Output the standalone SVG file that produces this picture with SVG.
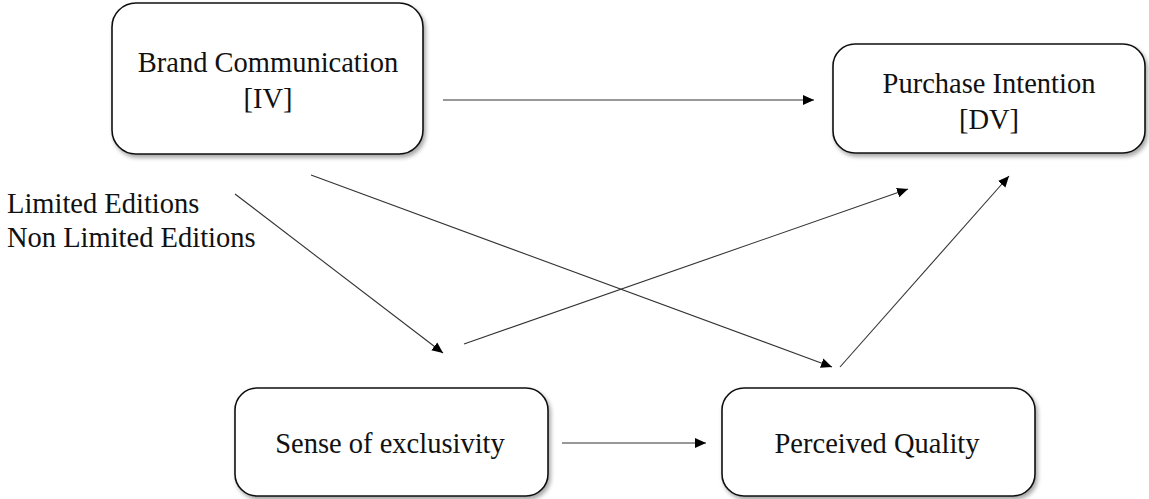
<svg xmlns="http://www.w3.org/2000/svg" width="1149" height="499" viewBox="0 0 1149 499">
<style>
.box{fill:#fff;stroke:#111;stroke-width:1.6;filter:url(#sh)}
.t{font-family:"Liberation Serif","Times New Roman",serif;font-size:28.5px;fill:#111}
.c{text-anchor:middle}
.e{stroke:#333;stroke-width:1.1;fill:none;marker-end:url(#ah)}
</style>
<defs>
<filter id="sh" x="-10%" y="-10%" width="120%" height="130%">
<feDropShadow dx="2" dy="3" stdDeviation="2" flood-color="#000" flood-opacity="0.35"/>
</filter>
<marker id="ah" viewBox="0 0 10 10" refX="10" refY="5" markerWidth="11" markerHeight="11" markerUnits="userSpaceOnUse" orient="auto">
<path d="M0,0.5 L10,5 L0,9.5 z" fill="#000"/>
</marker>
</defs>
<rect width="1149" height="499" fill="#fff"/>
<g id="connectors">
<line class="e" x1="443" y1="100" x2="814" y2="100"/>
<line class="e" x1="235" y1="194" x2="443" y2="353"/>
<line class="e" x1="311" y1="175" x2="832" y2="367"/>
<line class="e" x1="464" y1="344" x2="908" y2="189"/>
<line class="e" x1="840" y1="367" x2="1009" y2="176"/>
<line class="e" x1="562" y1="443" x2="706" y2="443"/>
</g>
<g id="brand">
<rect class="box" x="112" y="3" width="311" height="151" rx="24"/>
<text class="t c" x="268" y="72">Brand Communication</text>
<text class="t c" x="268" y="108">[IV]</text>
</g>
<g id="purchase">
<rect class="box" x="833" y="44" width="312" height="109" rx="22"/>
<text class="t c" x="989" y="93">Purchase Intention</text>
<text class="t c" x="989" y="129">[DV]</text>
</g>
<g id="exclusivity">
<rect class="box" x="235" y="388" width="313" height="108" rx="22"/>
<text class="t c" x="390" y="453">Sense of exclusivity</text>
</g>
<g id="quality">
<rect class="box" x="722" y="388" width="313" height="108" rx="22"/>
<text class="t c" x="877" y="453">Perceived Quality</text>
</g>
<g id="label">
<text class="t" x="7" y="213">Limited Editions</text>
<text class="t" x="7" y="247">Non Limited Editions</text>
</g>
</svg>
